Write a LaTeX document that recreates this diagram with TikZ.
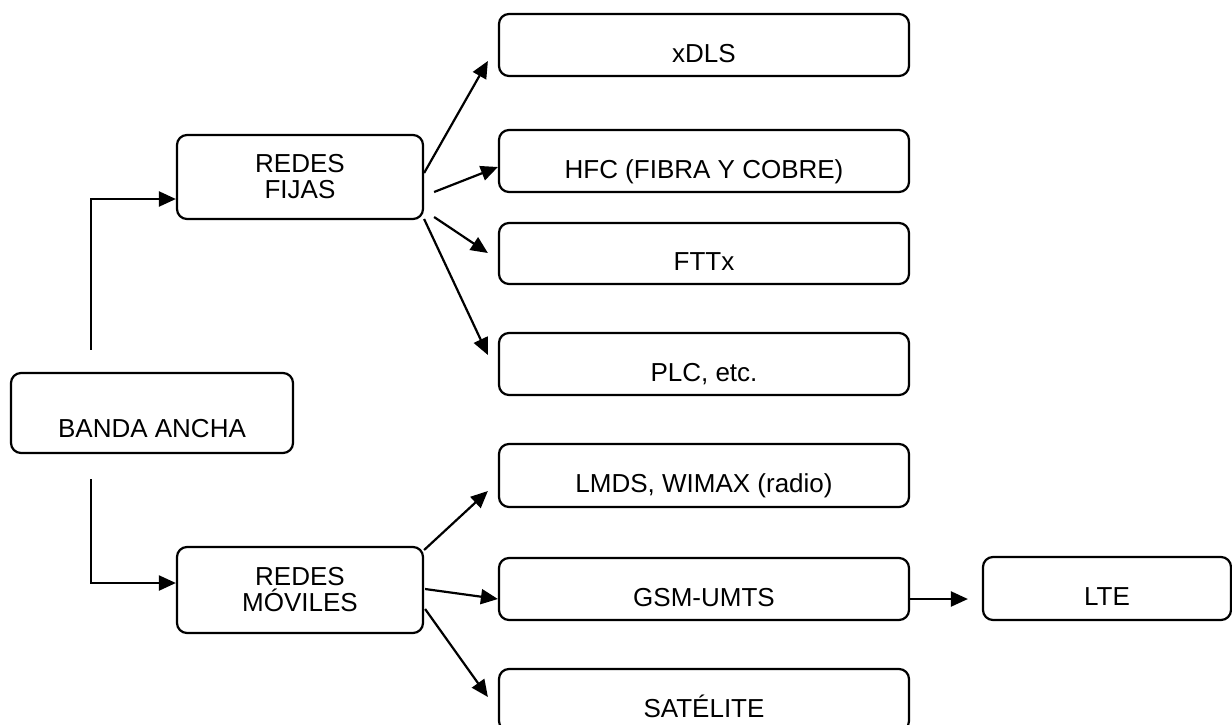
\documentclass[tikz,border=0pt]{standalone}
\usepackage{fontspec}
\setmainfont{Liberation Sans}
\usetikzlibrary{arrows.meta,calc}
\tikzset{
  box/.style={draw=black, line width=2.2pt, rounded corners=10pt, rectangle,
    inner sep=0pt, font=\fontsize{26}{26}\selectfont, text height=34pt, text depth=0pt},
  twoline/.style={draw=black, line width=2.2pt, rounded corners=10pt, rectangle,
    inner sep=0pt, align=center, font=\fontsize{26}{26}\selectfont},
  conn/.style={line width=2.2pt, -{Triangle[length=17pt,width=15pt]}},
}
\begin{document}
\begin{tikzpicture}[x=1pt,y=-1pt]
\useasboundingbox (0,0) rectangle (1232,724);
\clip (0,0) rectangle (1232,724);
\fill[white] (0,0) rectangle (1232,724);
% nodes
\node[box, minimum width=282pt, minimum height=80pt, text height=48pt] (banda) at (152,413) {BANDA ANCHA};
\node[twoline, minimum width=246pt, minimum height=84pt] (fijas) at (300,177) {REDES\\FIJAS};
\node[twoline, minimum width=246pt, minimum height=86pt] (moviles) at (300,590) {REDES\\MÓVILES};
\node[box, minimum width=410pt, minimum height=62pt] (xdls) at (704,45) {xDLS};
\node[box, minimum width=410pt, minimum height=62pt] (hfc) at (704,161) {HFC (FIBRA Y COBRE)};
\node[box, minimum width=410pt, minimum height=61pt] (fttx) at (704,253.5) {FTTx};
\node[box, minimum width=410pt, minimum height=62pt] (plc) at (704,364) {PLC, etc.};
\node[box, minimum width=410pt, minimum height=63pt] (lmds) at (704,475.5) {LMDS, WIMAX (radio)};
\node[box, minimum width=410pt, minimum height=62pt] (gsm) at (704,589) {GSM-UMTS};
\node[box, minimum width=410pt, minimum height=62pt] (sat) at (704,700) {SATÉLITE};
\node[box, minimum width=248pt, minimum height=63pt] (lte) at (1107,588.5) {LTE};
% connectors
\draw[conn] ($(banda.north)+(-61,-22)$) |- ($(fijas.west)+(0,22)$);
\draw[conn] ($(banda.south)+(-61,25)$) |- ($(moviles.west)+(0,-7)$);
\draw[conn] ($(fijas.east)+(0,-4)$) -- ($(xdls.west)+(-10,16)$);
\draw[conn] ($(fijas.east)+(10,15)$) -- ($(hfc.west)+(0,6)$);
\draw[conn] ($(fijas.east)+(10,40)$) -- ($(fttx.west)+(-10,-0.5)$);
\draw[conn] ($(fijas.east)+(0,42)$) -- ($(plc.west)+(-10,-9)$);
\draw[conn] ($(moviles.east)+(0,-40)$) -- ($(lmds.west)+(-10,15.5)$);
\draw[conn] ($(moviles.east)+(1,-1)$) -- ($(gsm.west)+(0,10)$);
\draw[conn] ($(moviles.east)+(1,19)$) -- ($(sat.west)+(-10,-3)$);
\draw[conn] ($(gsm.east)+(0,10)$) -- ($(lte.west)+(-14,10.5)$);
\end{tikzpicture}
\end{document}
